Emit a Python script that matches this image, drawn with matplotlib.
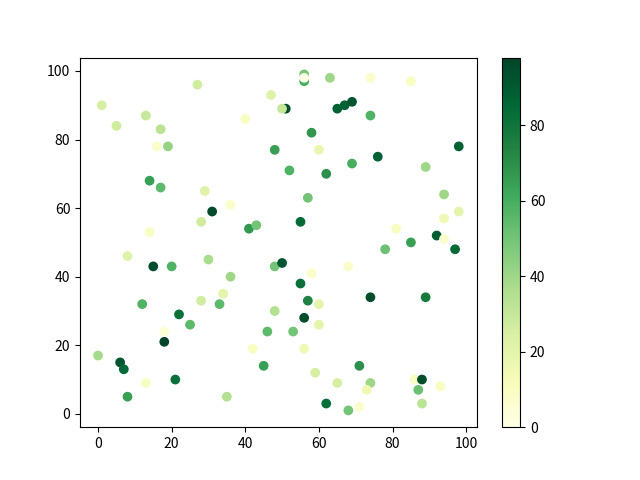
import numpy as np
import matplotlib
matplotlib.use('Agg')
import matplotlib.pyplot as plt

plt.rcParams['font.family'] = ['Noto Sans CJK SC', 'DejaVu Sans']

# point positions and colour values
x = [1, 27, 47, 51, 50, 13, 5, 17, 40, 16, 19, 48, 52, 14, 17, 29, 36, 31, 28, 41, 43, 14,
     56, 56, 56, 63, 74, 85, 65, 67, 69, 74, 58, 60, 98, 76, 62, 69, 89, 57, 94, 98, 94,
     55, 81, 92, 94, 85,
     8, 15, 20, 30, 36, 48, 50, 34, 28, 33, 12, 48, 22, 25, 18, 18, 46, 0, 6, 7, 42, 45,
     13, 21, 8, 35,
     78, 97, 58, 68, 55, 74, 89, 57, 60, 56, 60, 53, 56, 71, 59, 65, 74, 73, 86, 88, 87,
     93, 88, 62, 68, 71]
y = [90, 96, 93, 89, 89, 87, 84, 83, 86, 78, 78, 77, 71, 68, 66, 65, 61, 59, 56, 54, 55, 53,
     99, 97, 98, 98, 98, 97, 89, 90, 91, 87, 82, 77, 78, 75, 70, 73, 72, 63, 64, 59, 57,
     56, 54, 52, 51, 50,
     46, 43, 43, 45, 40, 43, 44, 35, 33, 32, 32, 30, 29, 26, 24, 21, 24, 17, 15, 13, 19, 14,
     9, 10, 5, 5,
     48, 48, 41, 43, 38, 34, 34, 33, 32, 28, 26, 24, 19, 14, 12, 9, 9, 7, 10, 10, 7,
     8, 3, 3, 1, 2]
c = [25, 27, 22, 95, 30, 30, 27, 33, 10, 8, 42, 65, 58, 65, 55, 22, 8, 96, 27, 67, 50, 10,
     50, 60, 0, 40, 8, 10, 88, 88, 92, 58, 68, 18, 88, 88, 70, 60, 40, 50, 40, 20, 15,
     85, 10, 90, 8, 65,
     22, 95, 58, 37, 40, 50, 92, 20, 27, 55, 58, 35, 82, 55, 5, 98, 55, 38, 92, 85, 10, 65,
     10, 82, 65, 35,
     52, 85, 8, 8, 82, 95, 78, 75, 20, 95, 20, 50, 15, 70, 25, 25, 40, 15, 10, 95, 52,
     10, 33, 82, 50, 8]

plt.scatter(x, y, c=c, cmap='YlGn')
plt.colorbar()
plt.savefig('out.png', dpi=100)
